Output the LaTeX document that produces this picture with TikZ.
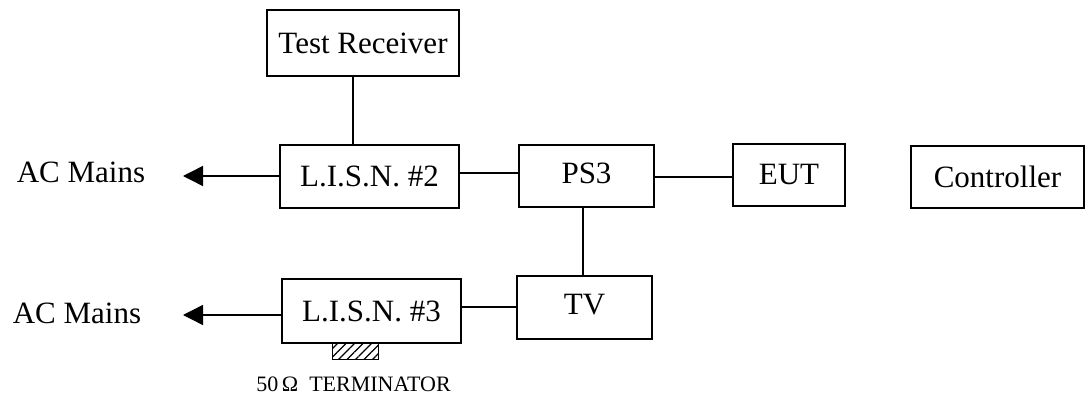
\documentclass[tikz,border=0pt]{standalone}
\usepackage{fontspec}
\setmainfont{Liberation Serif}
\usetikzlibrary{arrows.meta,patterns.meta}
\begin{document}
\begin{tikzpicture}[x=1pt,y=-1pt, line width=1.4pt,
  box/.style={draw, inner sep=0pt, font=\fontsize{31}{36}\selectfont},
  lbl/.style={font=\fontsize{31}{36}\selectfont, inner sep=0pt, anchor=base},
  tip/.style={-{Triangle[length=20pt,width=20pt]}}]
\useasboundingbox (0,0) rectangle (1088,401);
\node[box, minimum width=192pt, minimum height=66pt] (tr) at (363,43) {Test Receiver};
\node[box, minimum width=179pt, minimum height=63pt] (lisn2) at (369.5,176.5) {L.I.S.N. \#2};
\node[box, minimum width=135pt, minimum height=62pt] (ps3) at (586.5,176) {\raisebox{6pt}{PS3}};
\node[box, minimum width=112pt, minimum height=62pt] (eut) at (789,175) {EUT};
\node[box, minimum width=173pt, minimum height=62pt] (ctrl) at (997.5,177) {Controller};
\node[box, minimum width=135pt, minimum height=63pt] (tv) at (584.5,307.5) {\raisebox{7pt}{TV}};
\node[box, minimum width=179pt, minimum height=64pt] (lisn3) at (371.5,311) {L.I.S.N. \#3};
\node[lbl] (ac1) at (81,183) {AC Mains};
\node[lbl] (ac2) at (77,323) {AC Mains};
\node[draw, line width=0.8pt, inner sep=0pt, minimum width=46pt, minimum height=16pt,
  pattern={Lines[angle=45,distance=6pt,line width=1.3pt]}] (term) at (355,351) {};
\node[font=\fontsize{22}{26}\selectfont, inner sep=0pt, anchor=base] (termtxt) at (353.5,391) {50\,Ω\ \ TERMINATOR};
\coordinate (t1) at (183,176);
\coordinate (t2) at (183,315);
\draw[tip] (lisn2.west |- t1) -- (t1);
\draw[tip] (lisn3.west |- t2) -- (t2);
\draw ([xshift=-10pt]tr.south) -- ([xshift=-10pt]tr.south |- lisn2.north);
\draw ([yshift=3.5pt]lisn2.east) -- ([yshift=3.5pt]lisn2.east -| ps3.west);
\draw ([yshift=-1pt]ps3.east) -- ([yshift=-1pt]ps3.east -| eut.west);
\draw ([xshift=-1.5pt]tv.north) -- ([xshift=-1.5pt]tv.north |- ps3.south);
\draw ([yshift=4pt]lisn3.east) -- ([yshift=4pt]lisn3.east -| tv.west);
\end{tikzpicture}
\end{document}
